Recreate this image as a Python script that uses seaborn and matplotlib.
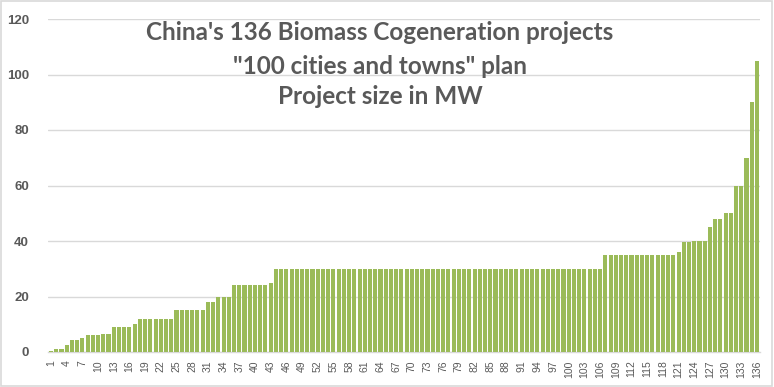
import pandas as pd
import seaborn as sns
import matplotlib.pyplot as plt
from matplotlib.patches import Rectangle

# project sizes in MW, sorted ascending
sizes = [0.4, 1, 1, 2.5, 4.5, 4.5, 5, 6, 6, 6,
         6.5, 6.5, 9, 9, 9, 9, 10, 12, 12, 12,
         12, 12, 12, 12, 15, 15, 15, 15, 15, 15,
         18, 18, 20, 20, 20, 24, 24, 24, 24, 24,
         24, 24, 25, 30, 30, 30, 30, 30, 30, 30,
         30, 30, 30, 30, 30, 30, 30, 30, 30, 30,
         30, 30, 30, 30, 30, 30, 30, 30, 30, 30,
         30, 30, 30, 30, 30, 30, 30, 30, 30, 30,
         30, 30, 30, 30, 30, 30, 30, 30, 30, 30,
         30, 30, 30, 30, 30, 30, 30, 30, 30, 30,
         30, 30, 30, 30, 30, 30, 35, 35, 35, 35,
         35, 35, 35, 35, 35, 35, 35, 35, 35, 35,
         36, 39.5, 39.5, 40, 40, 40, 45, 48, 48, 50,
         50, 60, 60, 70, 90, 105]
ranks = list(range(1, len(sizes) + 1))
y_ticks = [0, 20, 40, 60, 80, 100, 120]
title_lines = ["China's 136 Biomass Cogeneration projects",
               '"100 cities and towns" plan',
               'Project size in MW']

df = pd.DataFrame({'Projeto': ranks, 'MW': sizes})

sns.set_style('white')
plt.rcParams['font.family'] = ['Liberation Sans', 'DejaVu Sans']

txt = '#595959'
grid = '#D9D9D9'

fig = plt.figure(figsize=(7.74, 3.87), dpi=100)
ax = fig.add_axes([48.4 / 774, 35 / 387, 711.2 / 774, 333 / 387])

sns.barplot(data=df, x='Projeto', y='MW', color='#9BBB59', saturation=1,
            width=0.78, linewidth=0, ax=ax, zorder=3)

ax.set_ylim(0, 120)
ax.set_xlim(-0.5, len(sizes) - 0.5)
ax.set_yticks(y_ticks)
ax.set_yticklabels([str(v) for v in y_ticks], fontweight='bold', fontsize=9.5, color=txt)
ax.set_xticks(range(0, len(sizes), 3))
ax.set_xticklabels([str(r) for r in ranks[::3]], rotation=90, fontsize=7.5, color=txt)
ax.tick_params(axis='both', length=0)
ax.tick_params(axis='y', pad=14)
ax.tick_params(axis='x', pad=6)
ax.set_xlabel('')
ax.set_ylabel('')

ax.yaxis.grid(True, color=grid, lw=1, zorder=0)
for s in ['top', 'right', 'left']:
    ax.spines[s].set_visible(False)
ax.spines['bottom'].set_color(grid)
ax.spines['bottom'].set_linewidth(1)

# title lines
baselines = [39.5, 73.5, 104.5]
for line, b in zip(title_lines, baselines):
    fig.text(380 / 774, 1 - b / 387, line, ha='center', va='baseline',
             fontsize=17.5, fontweight='bold', color=txt, family=['Lato', 'DejaVu Sans'])

# chart border
fig.patches.append(Rectangle((0.001, 0.002), 0.997, 0.995, transform=fig.transFigure,
                             fill=False, ec=grid, lw=1.2))

fig.savefig('out.png', dpi=100)
